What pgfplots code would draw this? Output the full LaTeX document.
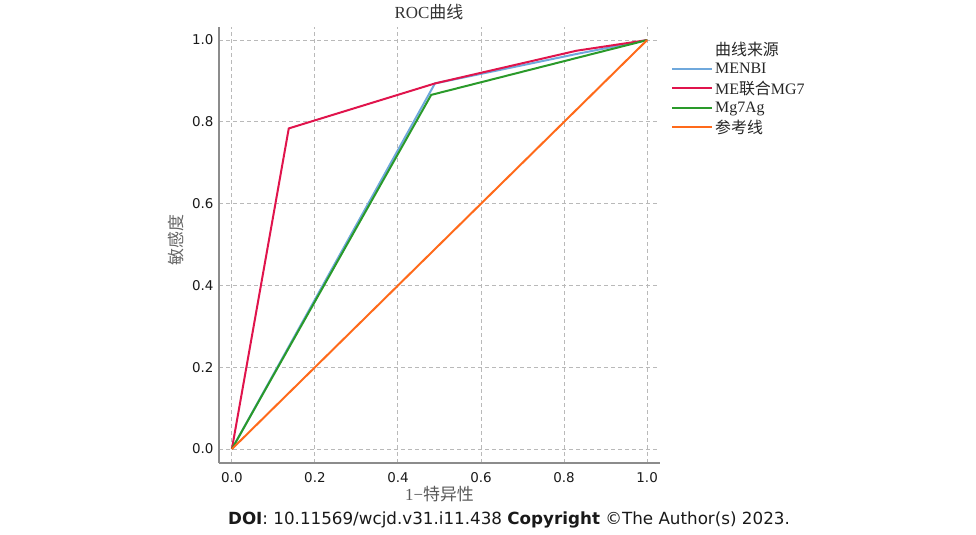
\documentclass[border=0pt]{standalone}
\usepackage{fontspec}
\setmainfont{Liberation Serif}
\newfontfamily\cjk{Noto Sans CJK SC}
\newfontfamily\dejavu{DejaVu Sans}
\usepackage{pgfplots}
\pgfplotsset{compat=1.18}
\definecolor{cblue}{HTML}{6FA8DC}
\definecolor{cred}{HTML}{E0144C}
\definecolor{cgreen}{HTML}{2A9A2A}
\definecolor{corange}{HTML}{FF6A1A}
\begin{document}
\begin{tikzpicture}
\path[use as bounding box] (0bp,0bp) rectangle (976bp,535bp);
\begin{axis}[
  at={(219bp,72bp)}, anchor=south west,
  scale only axis, width=441bp, height=436bp,
  xmin=-0.031, xmax=1.031, ymin=-0.034, ymax=1.032,
  axis x line*=bottom, axis y line*=left,
  axis line style={-, gray!90, line width=1.6bp},
  xtick={0,0.2,0.4,0.6,0.8,1.0}, ytick={0,0.2,0.4,0.6,0.8,1.0},
  major tick length=0pt,
  grid=major,
  major grid style={dash pattern=on 4bp off 3bp, gray!55, line width=1bp},
  /pgf/number format/fixed, /pgf/number format/fixed zerofill,
  /pgf/number format/precision=1,
  /pgf/number format/assume math mode=true,
  ticklabel style={font=\dejavu\fontsize{13.5}{16}\selectfont, text=black!90},
  xticklabel style={yshift=-6bp},
  yticklabel style={xshift=-2bp},
  title={ROC{\cjk 曲线}},
  title style={at={(0.476,1)}, anchor=south, yshift=-2bp, font=\fontsize{17}{19}\selectfont, text=black!80},
  xlabel={1−{\cjk 特异性}},
  xlabel style={at={(0.5,0)}, anchor=center, yshift=-31bp, font=\fontsize{17}{19}\selectfont, text=black!65},
  ylabel={\cjk 敏感度},
  ylabel style={at={(0,0.511)}, anchor=center, yshift=43bp, font=\fontsize{17}{19}\selectfont, text=black!60},
  legend style={at={(1.018,0.975)}, anchor=north west, draw=none, fill=none,
    font=\fontsize{16}{18}\selectfont, text=black!85, row sep=2bp},
  legend cell align=left,
  legend image code/.code={\draw[#1] (0bp,0bp) -- (40bp,0bp);},
]
\addlegendimage{empty legend}
\addlegendentry{{\cjk 曲线来源}\rule[-8bp]{0pt}{0pt}}
\addplot[cblue, line width=2bp] coordinates {(0,0) (0.489,0.894) (0.83,0.966) (1,1)};
\addlegendentry{MENBI}
\addplot[cred, line width=2bp] coordinates {(0,0) (0.137,0.784) (0.489,0.894) (0.83,0.974) (1,1)};
\addlegendentry{ME{\cjk 联合}MG7}
\addplot[cgreen, line width=2bp] coordinates {(0,0) (0.48,0.866) (1,1)};
\addlegendentry{Mg7Ag}
\addplot[corange, line width=2bp] coordinates {(0,0) (1,1)};
\addlegendentry{{\cjk 参考线}}
\end{axis}
\node[font=\dejavu\fontsize{16.8}{20}\selectfont, text=black!90] at (509bp,15bp)
  {\textbf{DOI}: 10.11569/wcjd.v31.i11.438 \textbf{Copyright} ©The Author(s) 2023.};
\end{tikzpicture}
\end{document}
